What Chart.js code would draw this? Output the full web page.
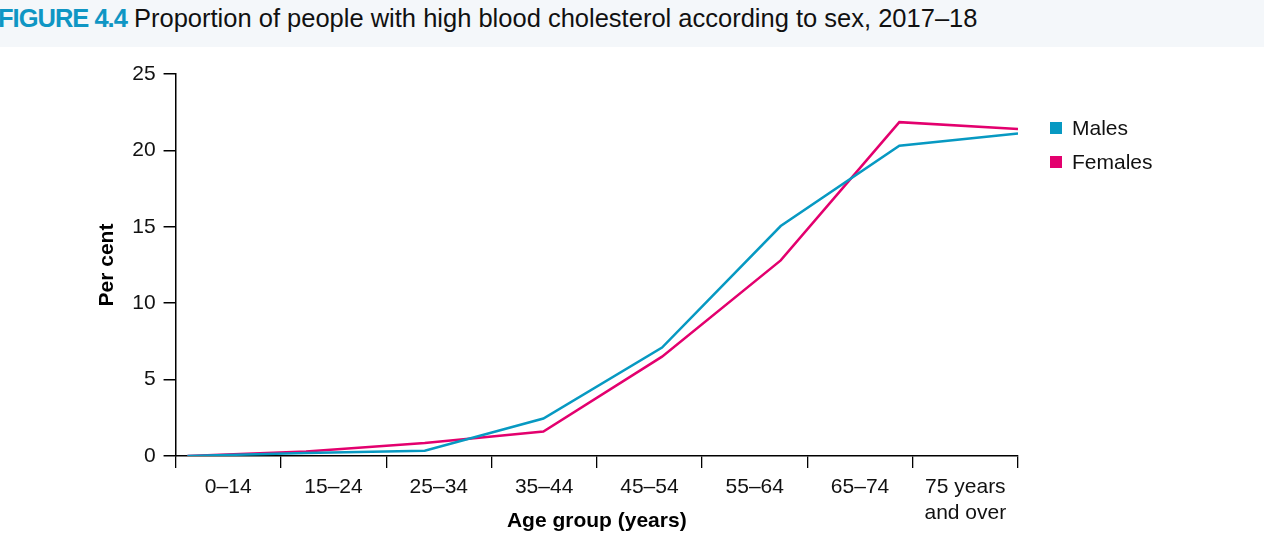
<!DOCTYPE html>
<html>
<head>
<meta charset="utf-8">
<script src="https://cdn.jsdelivr.net/npm/chart.js@4"></script>
<style>
  body { margin: 0; background: #fff; font-family: "Liberation Sans", Arial, sans-serif; }
  #wrap { position: relative; width: 1264px; height: 538px; overflow: hidden; }
  #title {
    position: absolute; left: 0; top: 0; width: 1264px; height: 47px;
    background: #f4f7fa; font-size: 25.5px; line-height: 37px; white-space: nowrap;
    color: #111; text-indent: -2px;
  }
  #title b { color: #0f96c4; letter-spacing: -1px; }
  #chart { position: absolute; left: 0; top: 0; }
  #legend { position: absolute; left: 1050px; top: 116px; font-size: 21px; color: #111; }
  #legend div { height: 34px; line-height: 24px; }
  #legend span { display: inline-block; width: 12px; height: 12px; margin-right: 10px; vertical-align: 1px; }
</style>
</head>
<body>
<div id="wrap">
  <canvas id="chart" width="1264" height="538"></canvas>
  <div id="title"><b>FIGURE 4.4</b> Proportion of people with high blood cholesterol according to sex, 2017–18</div>
  <div id="legend"></div>
</div>
<script>
// figure 4.4 - high blood cholesterol by sex

const ageGroups = ["0–14", "15–24", "25–34", "35–44", "45–54", "55–64", "65–74", ["75 years", "and over"]];
const males = [0, 0.2, 0.35, 2.45, 7.1, 15.05, 20.3, 21.1];
const females = [0, 0.3, 0.85, 1.6, 6.5, 12.8, 21.85, 21.4];
const yTicks = [0, 5, 10, 15, 20, 25];

const seriesNames = ["Males", "Females"];
const seriesColors = ["#0799c2", "#e3006e"];

const FONT = "'Liberation Sans', Arial, sans-serif";

function points(values) {
  return values.map((v, i) => ({ x: i, y: v }));
}

const legendBox = document.getElementById("legend");
seriesNames.forEach((name, i) => {
  const row = document.createElement("div");
  row.innerHTML = `<span style="background:${seriesColors[i]}"></span>${name}`;
  legendBox.appendChild(row);
});

const axisLine = { display: true, color: "#000", width: 1.5 };

new Chart(document.getElementById("chart"), {
  type: "line",
  data: {
    datasets: [
      { label: seriesNames[0], data: points(males), borderColor: seriesColors[0], borderWidth: 2.5, pointRadius: 0, tension: 0, xAxisID: "x", yAxisID: "y" },
      { label: seriesNames[1], data: points(females), borderColor: seriesColors[1], borderWidth: 2.5, pointRadius: 0, tension: 0, xAxisID: "x", yAxisID: "y" },
    ],
  },
  options: {
    responsive: false,
    animation: false,
    layout: { padding: { top: 74, left: 91, right: 246, bottom: 4 } },
    plugins: { legend: { display: false }, tooltip: { enabled: false } },
    scales: {
      x: {
        type: "linear",
        display: false,
        min: -0.1,
        max: ageGroups.length - 1,
      },
      xCat: {
        type: "category",
        position: "bottom",
        labels: ageGroups,
        offset: true,
        border: axisLine,
        grid: { offset: true, drawOnChartArea: false, color: "#000", lineWidth: 1.3, tickLength: 12 },
        ticks: { color: "#111", font: { family: FONT, size: 21, lineHeight: 1.25 }, padding: 6, maxRotation: 0 },
        title: { display: true, text: "Age group (years)", color: "#000", font: { family: FONT, size: 21, weight: "bold" }, padding: { top: 0, bottom: 0 } },
        // the title sits level with the second label line, as in the print
        afterFit: (axis) => { axis.height = 78; },
      },
      y: {
        min: 0,
        max: 25,
        afterBuildTicks: (axis) => { axis.ticks = yTicks.map(v => ({ value: v })); },
        border: axisLine,
        grid: { drawOnChartArea: false, color: "#000", lineWidth: 1.5, tickLength: 12 },
        ticks: { color: "#111", font: { family: FONT, size: 21 }, padding: 8 },
        title: { display: true, text: "Per cent", color: "#000", font: { family: FONT, size: 21, weight: "bold" }, padding: { bottom: 4 } },
      },
    },
  },
});
</script>
</body>
</html>
